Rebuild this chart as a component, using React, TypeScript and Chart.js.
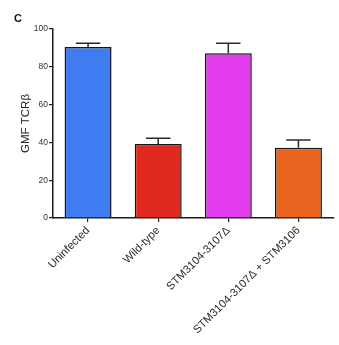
import React, { useEffect, useRef } from "react";
import { Chart, registerables } from "chart.js";

Chart.register(...registerables);

const categories = ["Uninfected", "Wild-type", "STM3104-3107Δ", "STM3104-3107Δ + STM3106"];
const values = [90.5, 39.2, 87.2, 37.2];
const errors = [1.9, 3.0, 5.3, 4.1];
const barColors = ["#3f7cf1", "#e1291f", "#e33cef", "#e8641f"];
const yTicks = [0, 20, 40, 60, 80, 100];
const yTitle = "GMF TCRβ";
const panelLabel = "C";

const FONT = "Arial, 'Liberation Sans', Helvetica, sans-serif";

const errorBarPlugin = {
  id: "errorBars",
  afterDatasetsDraw(chart: any) {
    const meta = chart.getDatasetMeta(0);
    const yScale = chart.scales.y;
    const ctx = chart.ctx;
    ctx.save();
    ctx.strokeStyle = "#2a2a2a";
    ctx.lineWidth = 1.5;
    meta.data.forEach((bar: any, i: number) => {
      const x = bar.x;
      const yVal = yScale.getPixelForValue(values[i]);
      const yTop = yScale.getPixelForValue(values[i] + errors[i]);
      const half = bar.width * 0.26;
      ctx.beginPath();
      ctx.moveTo(x, yVal);
      ctx.lineTo(x, yTop);
      ctx.moveTo(x - half, yTop);
      ctx.lineTo(x + half, yTop);
      ctx.stroke();
    });
    ctx.restore();
  },
};

const panelLabelPlugin = {
  id: "panelLabel",
  afterDraw(chart: any) {
    const ctx = chart.ctx;
    ctx.save();
    ctx.fillStyle = "#111";
    ctx.font = `bold 11px ${FONT}`;
    ctx.textAlign = "center";
    ctx.textBaseline = "middle";
    ctx.fillText(panelLabel, 18, 19);
    ctx.restore();
  },
};

export default function App() {
  const canvasRef = useRef<HTMLCanvasElement | null>(null);

  useEffect(() => {
    if (!canvasRef.current) return;
    const chart = new Chart(canvasRef.current, {
      type: "bar",
      data: {
        labels: categories,
        datasets: [
          {
            data: values,
            backgroundColor: barColors,
            borderColor: "#151515",
            borderWidth: 1.5,
            barPercentage: 0.67,
            categoryPercentage: 1,
          },
        ],
      },
      options: {
        animation: false,
        responsive: true,
        maintainAspectRatio: false,
        layout: { padding: { top: 29, right: 5.5, left: 0, bottom: 0 } },
        plugins: { legend: { display: false }, tooltip: { enabled: false } },
        scales: {
          x: {
            afterFit(scale: any) {
              scale.height = 127;
            },
            grid: {
              display: true,
              drawOnChartArea: false,
              drawTicks: true,
              tickLength: 4,
              offset: false,
              color: "#222",
              lineWidth: 1.2,
            },
            border: { display: true, color: "#1a1a1a", width: 1.5 },
            ticks: {
              minRotation: 45,
              maxRotation: 45,
              autoSkip: false,
              color: "#2a2a2a",
              padding: 2,
              font: { family: FONT, size: 11.2 },
            },
          },
          y: {
            min: 0,
            max: 100,
            afterFit(scale: any) {
              scale.width = 53;
            },
            afterBuildTicks(scale: any) {
              scale.ticks = yTicks.map((v) => ({ value: v }));
            },
            grid: {
              display: true,
              drawOnChartArea: false,
              drawTicks: true,
              tickLength: 4,
              color: "#222",
              lineWidth: 1.2,
            },
            border: { display: true, color: "#1a1a1a", width: 1.5 },
            ticks: {
              color: "#333",
              padding: 1,
              font: { family: FONT, size: 8.5 },
            },
            title: {
              display: true,
              text: yTitle,
              color: "#222",
              font: { family: FONT, size: 11.5 },
              padding: { top: 19, bottom: 0 },
            },
          },
        },
      },
      plugins: [errorBarPlugin, panelLabelPlugin],
    });
    return () => chart.destroy();
  }, []);

  return (
    <div style={{ position: "absolute", left: 0, top: 0, width: 339, height: 345, background: "#fff" }}>
      <canvas ref={canvasRef} />
    </div>
  );
}
